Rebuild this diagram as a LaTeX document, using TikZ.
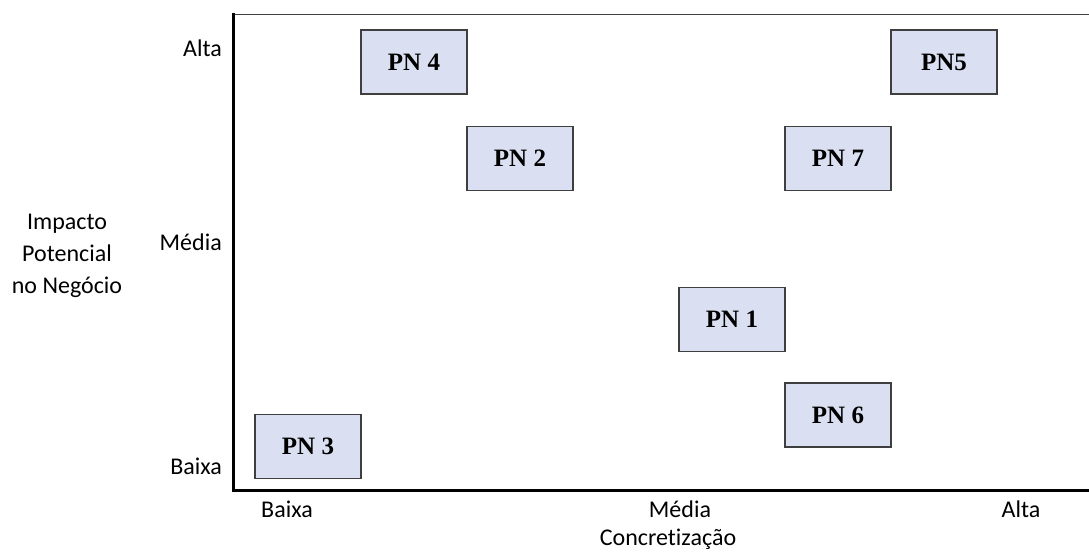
\documentclass[tikz,border=0pt]{standalone}
\usepackage{fontspec}
\setmainfont[Ligatures=NoCommon]{Carlito}
\newfontfamily\boxfont{Liberation Serif}
\definecolor{boxfill}{HTML}{DAE0F1}
\definecolor{boxline}{HTML}{3F3F3F}
\begin{document}
\begin{tikzpicture}[x=1pt,y=-1pt,
  pn/.style={draw=boxline,line width=1.2pt,fill=boxfill,minimum width=106pt,minimum height=64pt,
    inner sep=0pt,font=\boxfont\bfseries\fontsize{25}{27}\selectfont},
  axlab/.style={font=\fontsize{24}{32}\selectfont,inner sep=0pt},
  ylab/.style={axlab,anchor=east},
  xlab/.style={axlab,anchor=center}]
\useasboundingbox (0,0) rectangle (1089,552);
% frame of the matrix
\coordinate (tl) at (233,14);
\coordinate (tr) at (1089,14);
\coordinate (bl) at (233,490);
\coordinate (br) at (1089,490);
\draw[line width=1pt,black!75] (tl) -- (tr);
\draw[line width=3pt,line cap=rect] (tl) -- (bl) -- (br);
% project boxes
\node[pn] (pn4) at (414,62) {PN 4};
\node[pn] (pn5) at (944,62) {PN5};
\node[pn] (pn2) at (520,158.5) {PN 2};
\node[pn] (pn7) at (838,158.5) {PN 7};
\node[pn] (pn1) at (732,319.5) {PN 1};
\node[pn] (pn6) at (838,415) {PN 6};
\node[pn] (pn3) at (308,446.5) {PN 3};
% vertical axis
\node[ylab] (yalta) at (222,48) {Alta};
\node[ylab] (ymedia) at (222,242) {Média};
\node[ylab] (ybaixa) at (222,466) {Baixa};
\node[axlab,align=center] (ytitle) at (67,256) {Impacto\\Potencial\\no Negócio};
% horizontal axis
\node[xlab] (xbaixa) at (287,509) {Baixa};
\node[xlab] (xmedia) at (680,509) {Média};
\node[xlab] (xalta) at (1021,509) {Alta};
\node[xlab] (xtitle) at (668,539) {Concretização};
\end{tikzpicture}
\end{document}
